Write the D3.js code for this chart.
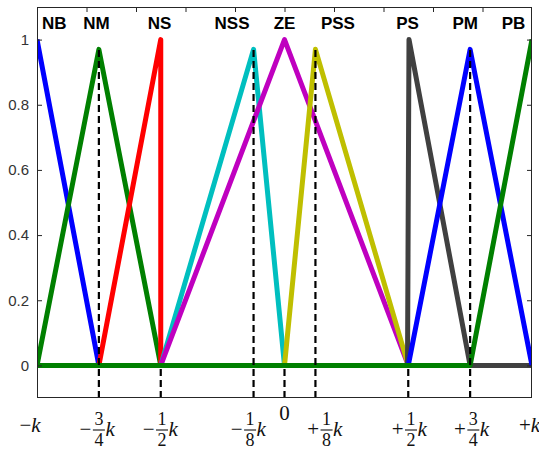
<!DOCTYPE html>
<html>
<head>
<meta charset="utf-8">
<script src="https://cdn.jsdelivr.net/npm/d3@7"></script>
<style>
  html, body { margin: 0; padding: 0; background: #ffffff; }
  svg { display: block; }
</style>
</head>
<body>
<svg id="chart" width="539" height="450"></svg>
<script>
// ---------------- data ----------------
const mfNames  = ["NB", "NM", "NS", "NSS", "ZE", "PSS", "PS", "PM", "PB"];
const mfColors = ["#0000ff", "#008000", "#ff0000", "#00bfbf", "#bf00bf", "#bfbf00", "#404040", "#0000ff", "#008000"];
// break points (x) and membership values (y) of every function
const mfX = [
  [-1, -0.75, 1],
  [-1, -0.75, -0.5, 1],
  [-1, -0.75, -0.5, -0.5, 1],
  [-1, -0.5, -0.125, 0, 1],
  [-1, -0.5, 0, 0.5, 1],
  [-1, 0, 0.125, 0.5, 1],
  [-1, 0.497, 0.503, 0.75, 1],
  [-1, 0.5, 0.75, 1],
  [-1, 0.75, 1]
];
const mfY = [
  [1, 0, 0],
  [0, 0.97, 0, 0],
  [0, 0, 1, 0, 0],
  [0, 0, 0.97, 0, 0],
  [0, 0, 1, 0, 0],
  [0, 0, 0.97, 0, 0],
  [0, 0, 1, 0, 0],
  [0, 0, 0.97, 0],
  [0, 0, 1]
];
// position of the name labels (x, data units)
const nameAt = [-0.93, -0.76, -0.505, -0.212, 0, 0.216, 0.497, 0.73, 0.925];

// dashed guide lines: x position and the height they reach
const guideX   = [-0.75, -0.5, -0.125, 0, 0.125, 0.5, 0.75];
const guideTop = [0.97, 0, 0.97, 0, 0.97, 0, 0.97];

// x labels
const xLabelAt   = [-1.028, -0.75, -0.495, -0.139, 0, 0.170, 0.511, 0.763, 0.99];
const xLabelSign = ["−", "−", "−", "−", "", "+", "+", "+", "+"];
const xLabelNum  = [null, "3", "1", "1", null, "1", "1", "3", null];
const xLabelDen  = [null, "4", "2", "8", null, "8", "2", "4", null];

const yTicks   = [0, 0.2, 0.4, 0.6, 0.8, 1];
const yTickLbl = ["0", "0.2", "0.4", "0.6", "0.8", "1"];
const topTicks = [-0.8, -0.6, -0.4, -0.2, 0, 0.2, 0.4, 0.6, 0.8];

// ---------------- layout ----------------
const L = 37, R = 532, T = 7, B = 398;
const svg = d3.select("#chart");
const x = d3.scaleLinear().domain([-1, 1]).range([L, R]);
const y = d3.scaleLinear().domain([-0.1, 1.1]).range([B, T]);
const axisColor = "#262626";

svg.append("defs").append("clipPath").attr("id", "clip")
  .append("rect").attr("x", L).attr("y", T).attr("width", R - L).attr("height", B - T);

// curves
const line = d3.line().x(d => x(d[0])).y(d => y(d[1]));
const plot = svg.append("g").attr("clip-path", "url(#clip)");
mfNames.forEach((n, i) => {
  const pts = mfX[i].map((v, j) => [v, mfY[i][j]]);
  plot.append("path")
    .attr("d", line(pts))
    .attr("fill", "none")
    .attr("stroke", mfColors[i])
    .attr("stroke-width", 5)
    .attr("stroke-linejoin", "round");
});

// dashed guides
guideX.forEach((g, i) => {
  plot.append("line")
    .attr("x1", x(g)).attr("x2", x(g))
    .attr("y1", y(-0.1)).attr("y2", y(guideTop[i]))
    .attr("stroke", "#000").attr("stroke-width", 2.2)
    .attr("stroke-dasharray", "7,4");
});

// axes
const yAxisL = d3.axisLeft(y).tickValues(yTicks).tickSizeInner(-5).tickSizeOuter(0)
  .tickPadding(8).tickFormat((d, i) => yTickLbl[i]);
const gL = svg.append("g").attr("transform", `translate(${L},0)`).call(yAxisL);
gL.select(".domain").remove();
gL.selectAll("line").attr("stroke", axisColor);
gL.selectAll("text").attr("fill", "#333")
  .style("font-family", "'Liberation Sans', Arial, sans-serif").style("font-size", "15px");

const yAxisR = d3.axisRight(y).tickValues(yTicks).tickSizeInner(-5).tickSizeOuter(0).tickFormat("");
const gR = svg.append("g").attr("transform", `translate(${R},0)`).call(yAxisR);
gR.select(".domain").remove();
gR.selectAll("line").attr("stroke", axisColor);

const xAxisT = d3.axisTop(x).tickValues(topTicks).tickSizeInner(-5).tickSizeOuter(0).tickFormat("");
const gT = svg.append("g").attr("transform", `translate(0,${T})`).call(xAxisT);
gT.select(".domain").remove();
gT.selectAll("line").attr("stroke", axisColor);

svg.append("rect").attr("x", L + 0.5).attr("y", T + 0.5)
  .attr("width", R - L - 1).attr("height", B - T - 1)
  .attr("fill", "none").attr("stroke", axisColor).attr("stroke-width", 1);

// names
svg.append("g").selectAll("text").data(mfNames).join("text")
  .attr("x", (d, i) => x(nameAt[i]))
  .attr("y", 29)
  .attr("text-anchor", "middle")
  .style("font-family", "'Liberation Sans', Arial, sans-serif")
  .style("font-weight", "bold")
  .style("font-size", "17px")
  .attr("fill", "#000")
  .text(d => d);

// x labels (math style)
const mathFont = "'Liberation Serif', 'Times New Roman', serif";
const lab = svg.append("g").style("font-family", mathFont).style("font-size", "21px").attr("fill", "#111");
xLabelAt.forEach((v, i) => {
  const cx = x(v);
  if (xLabelNum[i] === null) {
    if (xLabelSign[i] === "") {
      lab.append("text").attr("x", cx).attr("y", 420).attr("text-anchor", "middle").text("0");
    } else {
      const t = lab.append("text").attr("x", cx).attr("y", 432).attr("text-anchor", "middle");
      t.append("tspan").text(xLabelSign[i]);
      t.append("tspan").style("font-style", "italic").text("k");
    }
    return;
  }
  lab.append("text").attr("x", cx - 7.5).attr("y", 436).attr("text-anchor", "end").text(xLabelSign[i]);
  lab.append("text").attr("x", cx).attr("y", 425).attr("text-anchor", "middle")
    .style("font-size", "18px").text(xLabelNum[i]);
  lab.append("line").attr("x1", cx - 6).attr("x2", cx + 6).attr("y1", 430).attr("y2", 430)
    .attr("stroke", "#111").attr("stroke-width", 1.1);
  lab.append("text").attr("x", cx).attr("y", 445.5).attr("text-anchor", "middle")
    .style("font-size", "18px").text(xLabelDen[i]);
  lab.append("text").attr("x", cx + 6.5).attr("y", 436).attr("text-anchor", "start")
    .style("font-style", "italic").text("k");
});
</script>
</body>
</html>
